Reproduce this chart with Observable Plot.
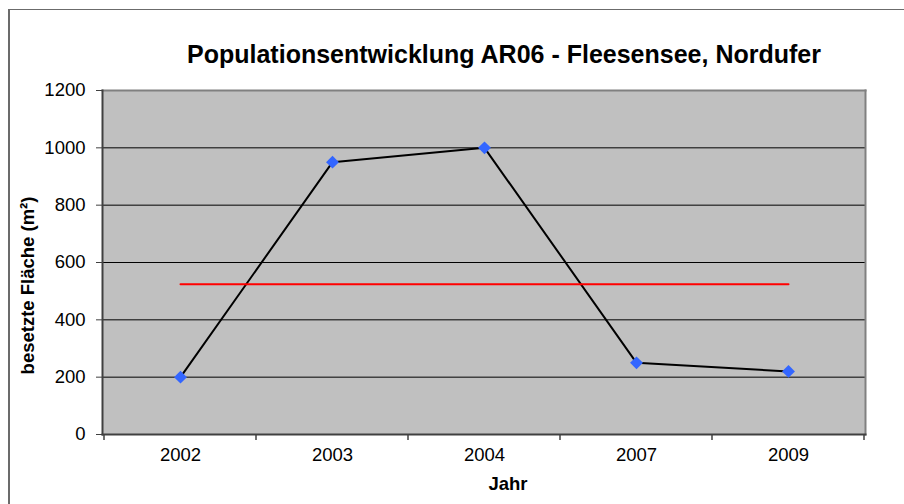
<!DOCTYPE html>
<html><head><meta charset="utf-8">
<script src="https://cdn.jsdelivr.net/npm/d3@7"></script>
<script src="https://cdn.jsdelivr.net/npm/@observablehq/plot@0.6"></script>
<style>
body{margin:0;background:#fff;}
#wrap{position:relative;width:904px;height:504px;overflow:hidden;font-family:"Liberation Sans",Arial,sans-serif;}
#border{position:absolute;left:8px;top:9px;width:1000px;height:1000px;border-left:2px solid #6b6b6b;border-top:1px solid #6b6b6b;pointer-events:none;}
</style>
</head><body><div id="wrap"></div>
<script>
const years = ["2002", "2003", "2004", "2007", "2009"];
const values = [200, 950, 1000, 250, 220];
const meanValue = 524;
const yTicks = [0, 200, 400, 600, 800, 1000, 1200];
const titleText = "Populationsentwicklung AR06 - Fleesensee, Nordufer";
const yLabel = "besetzte Fläche (m²)";
const xLabel = "Jahr";

const data = years.map((year, i) => ({year, value: values[i]}));

const chart = Plot.plot({
  width: 904,
  height: 504,
  marginLeft: 102,
  marginRight: 39,
  marginTop: 90,
  marginBottom: 70,
  style: {fontFamily: "Liberation Sans, Arial, sans-serif", background: "transparent", color: "#000"},
  x: {type: "band", domain: years, paddingInner: 0, paddingOuter: 0},
  y: {domain: [0, 1200]},
  marks: [
    Plot.frame({fill: "#C0C0C0", stroke: null}),
    Plot.ruleY(yTicks.slice(1), {stroke: "#000", strokeWidth: 1}),
    Plot.frame({anchor: "top", stroke: "#808080", strokeWidth: 2}),
    Plot.frame({anchor: "right", stroke: "#808080", strokeWidth: 2}),
    Plot.frame({anchor: "left", stroke: "#404040", strokeWidth: 2}),
    Plot.frame({anchor: "bottom", stroke: "#404040", strokeWidth: 2}),
    Plot.axisY({ticks: yTicks, tickFormat: d3.format("d"), tickSize: 6, tickPadding: 11, fontSize: 18.5, label: null, stroke: "#404040"}),
    Plot.axisX({tickSize: 0, tickPadding: 13, fontSize: 18.5, label: null}),
    Plot.line(data, {x: "year", y: "value", stroke: "#000", strokeWidth: 2}),
    Plot.line(years, {x: d => d, y: () => meanValue, stroke: "#FF0000", strokeWidth: 2}),
    Plot.dot(data, {x: "year", y: "value", symbol: "diamond2", r: 5.8, fill: "#3366FF", stroke: null}),
    Plot.text([titleText], {text: d => d, frameAnchor: "top", dx: 20, dy: -45, fontSize: 25, fontWeight: "bold", fill: "#000"}),
    Plot.text([xLabel], {text: d => d, frameAnchor: "bottom", dx: 24, dy: 55, fontSize: 18.5, fontWeight: "bold", fill: "#000"}),
    Plot.text([yLabel], {text: d => d, frameAnchor: "left", textAnchor: "middle", rotate: -90, dx: -74, dy: 23, fontSize: 18.5, fontWeight: "bold", fill: "#000"})
  ]
});

// category boundary tick marks on the x axis, positioned by the chart's x scale
const sx = chart.scale("x");
const sy = chart.scale("y");
const bounds = years.map(y => sx.apply(y)).concat([sx.apply(years[years.length - 1]) + sx.bandwidth]);
const y0 = sy.apply(0);
d3.select(chart).append("g")
  .selectAll("line").data(bounds).join("line")
  .attr("x1", d => d).attr("x2", d => d)
  .attr("y1", y0).attr("y2", y0 + 6)
  .attr("stroke", "#404040").attr("stroke-width", 1.5);

const wrap = document.getElementById("wrap");
wrap.appendChild(chart);
const b = document.createElement("div");
b.id = "border";
wrap.appendChild(b);
</script>
</body></html>
